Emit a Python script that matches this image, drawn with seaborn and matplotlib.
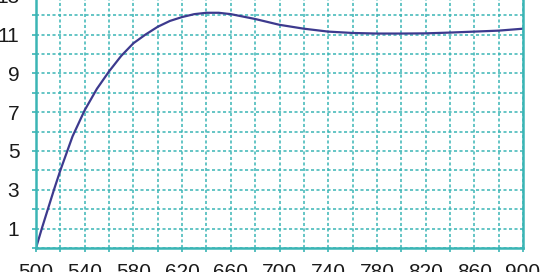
import matplotlib
matplotlib.use("Agg")
import matplotlib.pyplot as plt
import seaborn as sns
import pandas as pd
from matplotlib.ticker import MultipleLocator

x_vals = [500, 505, 510, 515, 520, 530, 540, 550, 560, 570, 580, 590, 600, 610, 620, 630, 640, 650, 660,
          680, 700, 720, 740, 760, 780, 800, 820, 840, 860, 880, 900]
y_vals = [0.0, 1.05, 2.05, 3.05, 4.0, 5.75, 7.1, 8.2, 9.1, 9.9, 10.55, 11.0, 11.4, 11.7, 11.9, 12.05, 12.12, 12.12, 12.05,
          11.8, 11.5, 11.3, 11.15, 11.08, 11.05, 11.05, 11.06, 11.1, 11.15, 11.2, 11.3]
x_ticks = [500, 540, 580, 620, 660, 700, 740, 780, 820, 860, 900]
y_ticks = [1, 3, 5, 7, 9, 11, 13]

df = pd.DataFrame({"x": x_vals, "y": y_vals})

sns.set_style("white")
plt.rcParams['font.family'] = ['Liberation Sans', 'DejaVu Sans']

teal = '#3bb5b5'
fig = plt.figure(figsize=(5.4, 2.72), dpi=100)
ax = fig.add_axes([36/540, 24/272, 487/540, 262/272])

sns.lineplot(data=df, x="x", y="y", ax=ax, color='#3d3a8e', linewidth=1.6)

ax.set_xlim(500, 900)
ax.set_ylim(0, 13.5)
ax.set_xticks(x_ticks)
ax.xaxis.set_minor_locator(MultipleLocator(20))
ax.set_yticks(y_ticks)
ax.yaxis.set_minor_locator(MultipleLocator(1))
ax.grid(True, which='both', color=teal, linestyle=(0, (2, 1.6)), linewidth=1.1)
ax.set_axisbelow(True)
ax.set_xlabel("")
ax.set_ylabel("")

for s in ['left', 'bottom', 'right']:
    ax.spines[s].set_color(teal)
    ax.spines[s].set_linewidth(1.8)
ax.spines['top'].set_visible(False)

ax.tick_params(axis='both', which='both', direction='out', color=teal, width=1.2, length=3,
               labelsize=15, labelcolor='#1a1a1a', bottom=True, left=True)
ax.tick_params(axis='x', which='major', pad=7.5)
ax.tick_params(axis='y', which='major', pad=9)

fig.savefig("out.png", dpi=100)
